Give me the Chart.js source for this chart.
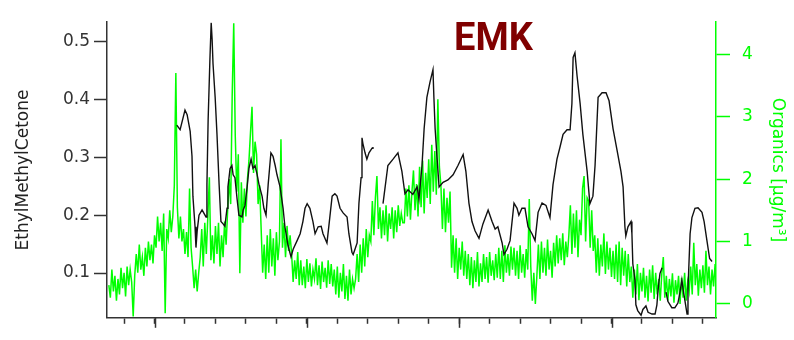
<!DOCTYPE html>
<html>
<head>
<meta charset="utf-8">
<script src="https://cdn.jsdelivr.net/npm/chart.js@4.4.1/dist/chart.umd.min.js"></script>
<style>
  body { margin: 0; background: #fff; }
  #wrap { position: relative; width: 794px; height: 340px; }
  #emk { position: absolute; left: 454px; top: 18px; font: bold 38px Roboto, sans-serif; line-height: 38px; color: #800000; }
</style>
</head>
<body>
<div id="wrap">
  <canvas id="c" width="794" height="340"></canvas>
  <div id="emk">EMK</div>
</div>
<script>
// x axis ticks (no labels in the original), major ones are longer
const xTicks = [4,5,6,7,8,9,10,11,12,13,14,15,16,17,18,19,20,21,22,23];
const majorTicks = [5,10,15,20];
const leftTicks = [0.1,0.2,0.3,0.4,0.5];
const rightTicks = [0,1,2,3,4];

// EthylMethylCetone (black), null = gap in the record
const emkX = [5.73,5.84,6.00,6.07,6.17,6.23,6.26,6.33,6.36,6.40,6.46,6.56,6.69,6.72,6.76,6.82,6.86,6.89,6.92,6.99,
  7.05,7.12,7.18,7.25,7.31,7.38,7.41,7.48,7.54,7.58,7.64,7.71,7.77,7.87,7.91,7.97,8.04,8.10,8.17,8.23,
  8.30,8.37,8.43,8.53,8.59,8.66,8.73,8.82,8.89,8.96,9.02,9.12,9.22,9.28,9.38,9.48,9.55,9.68,9.78,9.87,
  9.94,10.01,10.10,10.20,10.27,10.37,10.47,10.53,10.66,10.73,10.83,10.92,10.99,11.09,11.19,11.32,11.38,11.48,11.52,11.58,
  11.65,11.71,11.78,11.81,11.84,11.91,11.97,12.04,12.14,12.17,
  12.33,
  12.50,12.57,12.66,12.83,12.99,13.12,13.22,13.32,13.48,13.62,13.68,13.78,13.85,13.94,14.04,14.14,14.17,14.21,14.27,14.34,
  14.47,14.63,14.80,14.96,15.13,15.22,15.32,15.42,15.52,15.65,15.78,15.95,16.08,16.18,16.27,16.41,16.47,16.57,16.67,16.80,
  16.90,16.96,17.06,17.16,17.26,17.39,17.49,17.59,17.72,17.85,17.98,18.08,18.21,18.31,18.41,18.54,18.64,18.70,18.74,18.80,
  18.87,18.97,19.06,19.20,19.29,19.39,19.46,19.56,19.69,19.82,19.92,20.05,20.18,20.31,20.38,20.44,20.47,20.54,20.64,20.67,
  20.70,20.77,20.80,20.86,20.97,21.03,21.13,21.20,21.33,21.43,21.49,21.53,21.59,21.66,
  21.72,
  21.79,21.85,21.98,22.08,22.18,22.25,22.31,22.35,22.48,22.51,22.58,22.64,22.74,22.84,22.97,23.04,23.13,23.22,23.30];
const emkY = [0.356,0.348,0.382,0.374,0.345,0.302,0.233,0.180,0.144,0.173,0.200,0.209,0.197,0.253,0.366,0.473,0.533,0.505,0.462,0.404,
  0.340,0.253,0.189,0.185,0.181,0.212,0.249,0.281,0.286,0.270,0.265,0.228,0.200,0.197,0.209,0.217,0.249,0.281,0.297,0.281,
  0.286,0.270,0.253,0.233,0.212,0.200,0.253,0.308,0.302,0.286,0.270,0.249,0.212,0.180,0.148,0.128,0.141,0.156,0.168,0.189,
  0.212,0.220,0.212,0.189,0.168,0.180,0.181,0.168,0.152,0.185,0.233,0.237,0.233,0.212,0.204,0.197,0.168,0.136,0.132,0.141,
  0.152,0.221,0.265,0.334,0.324,0.308,0.297,0.308,0.316,0.318,
  null,
  0.220,0.249,0.286,0.297,0.308,0.276,0.237,0.244,0.236,0.249,0.228,0.286,0.350,0.404,0.430,0.452,0.404,0.350,0.302,0.249,
  0.257,0.261,0.270,0.286,0.305,0.276,0.221,0.189,0.173,0.160,0.185,0.209,0.189,0.176,0.180,0.152,0.132,0.141,0.156,0.221,
  0.212,0.200,0.212,0.212,0.180,0.168,0.156,0.205,0.221,0.217,0.196,0.253,0.297,0.318,0.340,0.348,0.348,0.393,0.473,0.481,
  0.441,0.393,0.340,0.276,0.220,0.233,0.286,0.404,0.412,0.412,0.398,0.350,0.313,0.276,0.249,0.180,0.164,0.180,0.189,0.168,
  0.116,0.088,0.045,0.035,0.027,0.037,0.043,0.032,0.029,0.029,0.045,0.072,0.099,0.109,
  null,
  0.067,0.051,0.040,0.040,0.048,0.067,0.088,0.072,0.029,0.072,0.168,0.196,0.212,0.213,0.205,0.189,0.157,0.125,0.120];

// Organics in ug/m3 (green), one reading every 0.05 from 3.5
const orgStart = 3.5;
const orgStep = 0.05;
const organics = [
  0.30,0.10,0.55,0.20,0.45,0.05,0.40,0.15,0.58,0.25,0.50,0.12,0.60,0.30,0.55,0.35,-0.20,
  0.45,0.80,0.50,0.95,0.55,0.75,0.45,0.90,0.60,1.00,0.70,0.95,0.65,
  1.10,0.90,1.40,1.00,1.30,0.85,1.45,-0.15,1.20,1.05,1.50,1.15,1.40,
  1.90,3.70,
  1.55,1.05,1.40,1.00,
  1.20,0.80,1.15,0.75,1.85,0.90,
  0.60,0.25,0.55,0.20,0.50,
  0.75,1.20,0.60,1.30,0.80,1.40,2.03,0.70,1.10,
  0.65,1.25,0.80,1.30,0.60,1.10,0.75,1.32,0.95,
  1.50,2.00,1.60,3.36,
  4.50,
  2.70,1.80,2.40,0.49,
  1.95,1.30,1.85,1.40,2.00,
  2.30,2.75,3.16,2.10,2.60,
  2.40,1.60,1.90,
  1.20,0.50,0.95,0.40,
  1.10,0.50,1.20,0.60,1.05,0.45,1.15,0.70,1.00,2.64,
  0.90,1.30,0.75,1.25,0.85,1.10,
  0.80,0.35,0.70,0.40,0.83,0.30,
  0.70,0.30,0.60,0.25,0.72,0.35,0.65,0.28,0.55,0.40,0.73,0.30,0.62,0.24,0.68,0.35,0.58,0.26,0.70,0.32,0.64,0.28,
  0.55,0.15,0.60,0.10,0.50,0.20,0.64,0.08,0.45,0.05,0.55,0.15,0.40,0.25,
  0.40,0.80,0.35,0.95,0.50,1.05,0.60,1.20,0.75,1.10,
  1.00,1.65,1.10,1.70,2.05,1.20,1.55,
  1.05,1.50,1.10,1.58,1.00,1.45,1.20,1.55,1.05,1.50,1.15,1.58,1.25,1.45,1.30,
  1.30,1.85,1.40,1.90,1.35,1.80,2.14,1.50,1.92,
  1.40,2.20,1.55,2.30,1.45,2.10,1.70,2.32,1.60,
  2.55,1.80,2.45,1.75,3.28,2.20,
  1.90,1.20,1.85,1.15,1.70,1.30,1.80,0.58,
  1.10,0.50,1.05,0.40,0.90,0.55,1.00,0.45,0.85,0.40,
  0.80,0.30,0.75,0.25,0.70,0.35,0.83,0.28,0.65,
  0.35,0.80,0.40,0.75,0.34,0.83,0.45,0.70,0.38,0.80,0.42,
  0.90,0.40,0.85,0.35,0.94,0.50,0.80,0.45,0.92,0.55,
  0.90,0.45,0.85,0.40,0.94,0.50,0.80,0.42,0.88,0.55,
  1.68,
  0.60,0.05,0.50,0.00,0.45,
  0.95,0.40,1.00,0.50,0.90,0.45,1.03,0.55,0.85,0.42,0.98,
  0.60,1.10,0.65,1.05,0.70,1.13,0.62,1.00,0.75,1.10,1.58,
  0.80,1.45,0.90,1.50,0.75,1.35,
  1.10,1.85,2.05,1.00,1.70,
  1.65,0.90,1.50,0.85,
  1.10,0.50,1.05,0.45,0.95,0.60,1.13,0.48,1.00,0.55,0.90,0.43,0.85,
  0.40,0.95,0.35,1.00,0.30,0.90,0.45,0.85,0.28,0.80,0.35,
  0.60,0.10,0.55,0.15,0.64,0.06,0.50,0.20,0.58,0.10,0.45,0.04,0.55,0.18,0.62,0.08,0.50,0.15,0.40,0.05,0.48,0.75,
  0.10,0.45,0.05,0.40,0.12,0.49,0.02,0.38,0.15,0.45,0.00,0.42,0.10,0.50,0.05,0.35,
  0.20,0.60,0.15,0.98,0.30,0.64,0.13,0.55,0.25,0.62,0.18,0.85,0.30,0.60,0.15,0.55,0.28,0.64,0.35];

const axisGrey = '#333';
const green = '#00ff00';

Chart.defaults.font.family = 'DejaVu Sans';

const majorTickPlugin = {
  id: 'majorTicks',
  afterDraw(chart) {
    const sx = chart.scales.x, c = chart.ctx;
    c.save();
    c.strokeStyle = axisGrey;
    c.lineWidth = 1.5;
    majorTicks.forEach(v => {
      const px = Math.round(sx.getPixelForValue(v)) + 0.5;
      c.beginPath();
      c.moveTo(px, sx.top);
      c.lineTo(px, sx.top + 10);
      c.stroke();
    });
    c.restore();
  }
};

new Chart(document.getElementById('c'), {
  type: 'line',
  data: {
    datasets: [
      {
        label: 'EthylMethylCetone',
        data: emkX.map((x, i) => ({x: x, y: emkY[i]})),
        yAxisID: 'y',
        borderColor: '#111',
        borderWidth: 1.4,
        pointRadius: 0,
        spanGaps: false,
        order: 0
      },
      {
        label: 'Organics',
        data: organics.map((v, i) => ({x: orgStart + i * orgStep, y: v})),
        yAxisID: 'y2',
        borderColor: green,
        borderWidth: 1.5,
        pointRadius: 0,
        order: 1
      }
    ]
  },
  options: {
    responsive: false,
    animation: false,
    layout: { padding: { top: 12 } },
    plugins: { legend: { display: false }, tooltip: { enabled: false } },
    scales: {
      x: {
        type: 'linear',
        position: 'bottom',
        min: 3.44, max: 23.43,
        afterBuildTicks: s => { s.ticks = xTicks.map(v => ({value: v})); },
        afterFit: s => { s.height = 9; },
        ticks: { display: false },
        grid: { drawOnChartArea: false, tickLength: 6, color: axisGrey, tickWidth: 1.5 },
        border: { color: axisGrey, width: 1.5 }
      },
      y: {
        position: 'left',
        min: 0.0225, max: 0.534,
        afterBuildTicks: s => { s.ticks = leftTicks.map(v => ({value: v})); },
        afterFit: s => { s.width = 107; },
        ticks: { color: axisGrey, font: { size: 17 }, padding: 4, callback: v => v.toFixed(1) },
        grid: { drawOnChartArea: false, tickLength: 13, color: axisGrey, tickWidth: 1.5 },
        border: { color: axisGrey, width: 1.5 },
        title: { display: true, text: 'EthylMethylCetone', color: '#222', font: { size: 17 }, padding: { top: 13 } }
      },
      y2: {
        position: 'right',
        min: -0.223, max: 4.516,
        afterBuildTicks: s => { s.ticks = rightTicks.map(v => ({value: v})); },
        afterFit: s => { s.width = 78; },
        ticks: { color: green, font: { size: 17 }, padding: 12, callback: v => String(v) },
        grid: { drawOnChartArea: false, tickLength: 14, color: green, tickWidth: 1.5 },
        border: { color: green, width: 1.5 },
        title: { display: true, text: 'Organics [µg/m³]', color: green, font: { size: 17 }, padding: { top: 6 } }
      }
    }
  },
  plugins: [majorTickPlugin]
});
</script>
</body>
</html>
